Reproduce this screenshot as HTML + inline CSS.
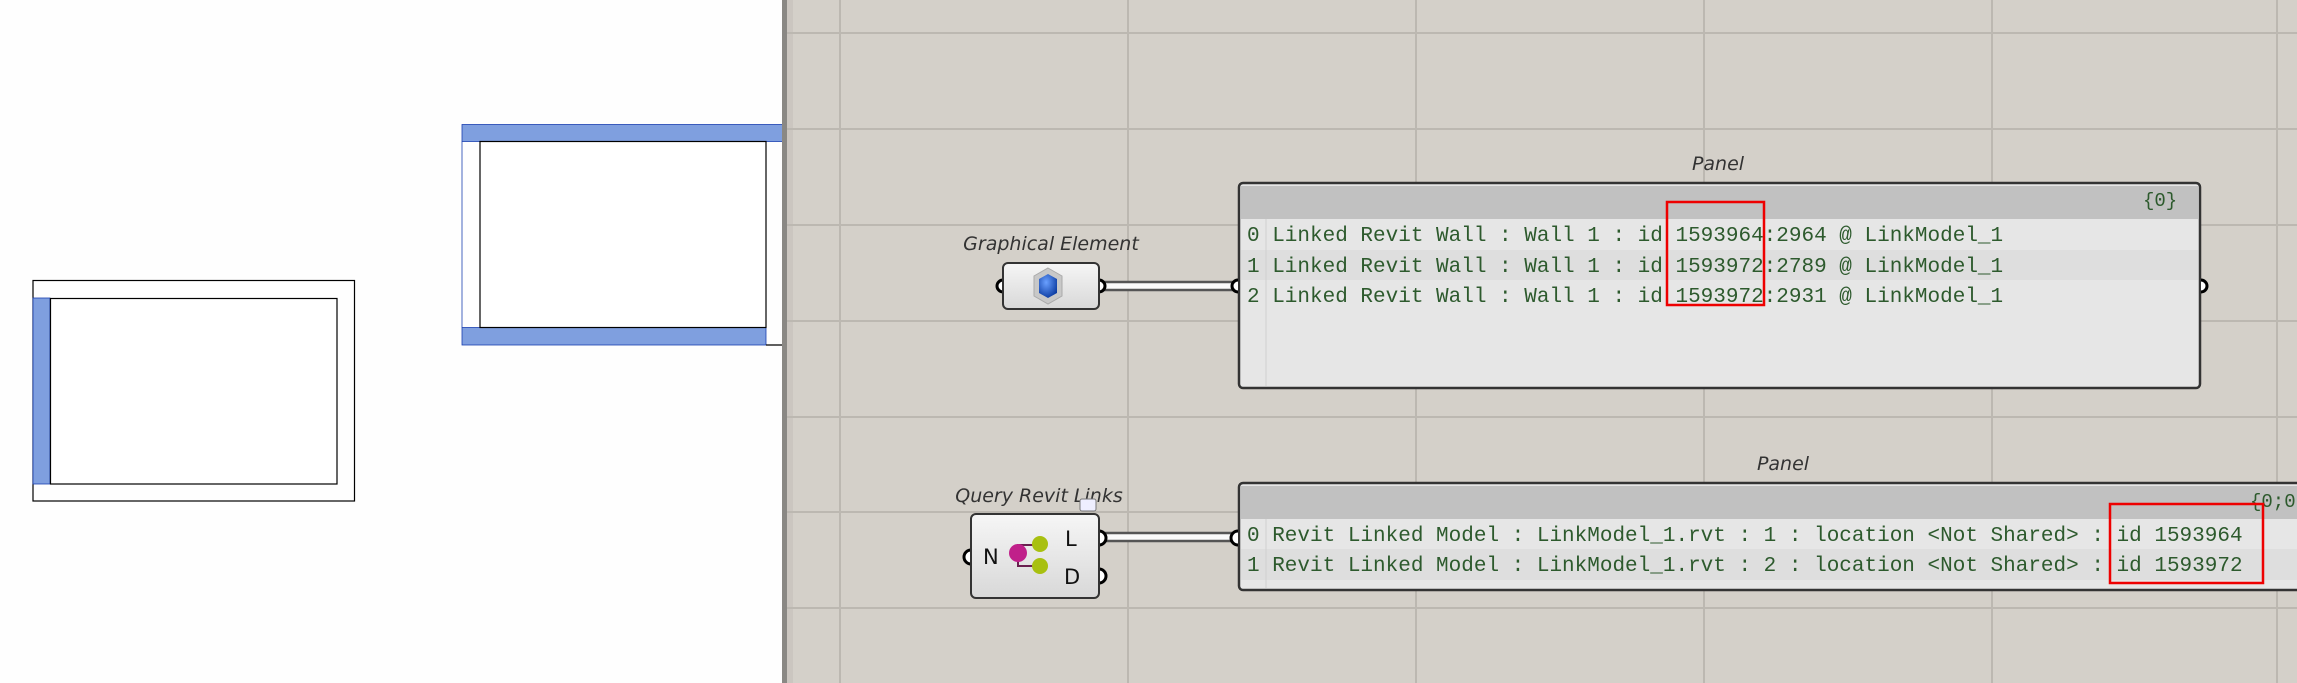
<!DOCTYPE html>
<html><head><meta charset="utf-8"><style>
html,body{margin:0;padding:0;width:2297px;height:683px;overflow:hidden;background:#fff}
svg{display:block}
.mono{font-family:"Liberation Mono",monospace;font-size:21px;fill:#2d5a2d}
.lbl{font-family:"DejaVu Sans","Liberation Sans",sans-serif;font-style:italic;font-size:19px;fill:#333}
.port{font-family:"DejaVu Sans","Liberation Sans",sans-serif;font-size:21px;fill:#111}
</style></head><body>
<svg width="2297" height="683" viewBox="0 0 2297 683" xmlns="http://www.w3.org/2000/svg">
<defs>
<linearGradient id="cg" x1="0" y1="0" x2="0" y2="1"><stop offset="0" stop-color="#f6f6f6"/><stop offset="1" stop-color="#d8d8d8"/></linearGradient>
<radialGradient id="blue" cx="0.4" cy="0.35" r="0.7"><stop offset="0" stop-color="#6aa0ff"/><stop offset="1" stop-color="#0a3aa0"/></radialGradient>
</defs>
<!-- left white area -->
<rect x="0" y="0" width="784" height="683" fill="#fefefe"/>
<rect x="33" y="280.5" width="321.5" height="220.5" fill="none" stroke="#000" stroke-width="1.2"/>
<rect x="33" y="298" width="17" height="186" fill="#7f9fdf" stroke="#1a3fb0" stroke-width="0.8"/>
<rect x="50.5" y="298.5" width="286.5" height="185.5" fill="#fff" stroke="#000" stroke-width="1.2"/>
<rect x="462" y="124.5" width="322" height="17" fill="#7f9fdf" stroke="#1a3fb0" stroke-width="0.8"/>
<rect x="462" y="327.5" width="304" height="17.5" fill="#7f9fdf" stroke="#1a3fb0" stroke-width="0.8"/>
<line x1="462" y1="141.5" x2="462" y2="327.5" stroke="#1a3fb0" stroke-width="0.8"/>
<rect x="480" y="141.5" width="286" height="186" fill="#fff" stroke="#000" stroke-width="1.2"/>
<line x1="766" y1="345" x2="784" y2="345" stroke="#000" stroke-width="1.2"/>
<!-- canvas -->
<rect x="784" y="0" width="1513" height="683" fill="#d4d0c9"/>
<rect x="782" y="0" width="5" height="683" fill="#8a8884"/>
<rect x="787" y="0" width="6" height="683" fill="#c4c0ba" opacity="0.6"/>
<g stroke="#bcb8b1" stroke-width="2">
<line x1="787" y1="33" x2="2297" y2="33"/><line x1="787" y1="129" x2="2297" y2="129"/>
<line x1="787" y1="225" x2="2297" y2="225"/><line x1="787" y1="321" x2="2297" y2="321"/>
<line x1="787" y1="417" x2="2297" y2="417"/><line x1="787" y1="512" x2="2297" y2="512"/>
<line x1="787" y1="608" x2="2297" y2="608"/>
<line x1="840" y1="0" x2="840" y2="683"/><line x1="1128" y1="0" x2="1128" y2="683"/>
<line x1="1416" y1="0" x2="1416" y2="683"/><line x1="1704" y1="0" x2="1704" y2="683"/>
<line x1="1992" y1="0" x2="1992" y2="683"/><line x1="2277" y1="0" x2="2277" y2="683"/>
</g>
<!-- wires -->
<rect x="1100" y="282" width="139" height="8" fill="#fafafa" stroke="#555" stroke-width="2.5"/>
<rect x="1100" y="533" width="139" height="8" fill="#fafafa" stroke="#555" stroke-width="2.5"/>
<!-- Graphical Element -->
<text class="lbl" x="1051" y="250" text-anchor="middle">Graphical Element</text>
<path d="M1003 280 a6 6 0 0 0 0 12" fill="#fff" stroke="#000" stroke-width="3"/>
<path d="M1099 280 a6 6 0 0 1 0 12" fill="#fff" stroke="#000" stroke-width="3"/>
<rect x="1003" y="263" width="96" height="46" rx="5" fill="url(#cg)" stroke="#333" stroke-width="2"/>
<polygon points="1048,268 1062,276 1062,296 1048,304 1034,296 1034,276" fill="#c8c8c8" stroke="#aaa"/>
<polygon points="1048,274 1057,279 1057,293 1048,298 1039,293 1039,279" fill="url(#blue)"/>
<!-- Panel 1 -->
<text class="lbl" x="1718" y="170" text-anchor="middle">Panel</text>
<rect x="1239" y="183" width="961" height="205" rx="4" fill="#e6e6e6" stroke="#333" stroke-width="2.5"/>
<rect x="1241" y="186" width="957" height="33" fill="#c1c1c1"/>
<rect x="1241" y="250" width="957" height="30" fill="#dedede"/>
<line x1="1266" y1="219" x2="1266" y2="386" stroke="#d0d0d0"/>
<text class="mono" x="2143" y="206" style="font-size:19px">{0}</text>
<text class="mono" x="1247" y="241">0 Linked Revit Wall : Wall 1 : id 1593964:2964 @ LinkModel_1</text>
<text class="mono" x="1247" y="272">1 Linked Revit Wall : Wall 1 : id 1593972:2789 @ LinkModel_1</text>
<text class="mono" x="1247" y="302">2 Linked Revit Wall : Wall 1 : id 1593972:2931 @ LinkModel_1</text>
<rect x="1667" y="202" width="97" height="103" fill="none" stroke="#e00" stroke-width="2.5"/>
<path d="M1238 280 a6 6 0 0 0 0 12" fill="#fff" stroke="#000" stroke-width="3"/>
<path d="M2201 280 a6 6 0 0 1 0 12" fill="#fff" stroke="#000" stroke-width="3"/>
<!-- Query Revit Links -->
<text class="lbl" x="1039" y="502" text-anchor="middle">Query Revit Links</text>
<path d="M971 550 a7 7 0 0 0 0 14" fill="#fff" stroke="#000" stroke-width="3"/>
<path d="M1099 531 a7 7 0 0 1 0 14" fill="#fff" stroke="#000" stroke-width="3"/>
<path d="M1099 569 a7 7 0 0 1 0 14" fill="#fff" stroke="#000" stroke-width="3"/>
<rect x="971" y="514" width="128" height="84" rx="5" fill="url(#cg)" stroke="#333" stroke-width="2"/>
<rect x="1080" y="499" width="16" height="12" rx="2" fill="#eef" stroke="#777"/>
<text class="port" x="983" y="564">N</text>
<text class="port" x="1065" y="546">L</text>
<text class="port" x="1064" y="584">D</text>
<path d="M1018 555 L1018 545 L1035 545 M1018 555 L1018 566 L1035 566" stroke="#6a2050" stroke-width="2" fill="none"/>
<circle cx="1018" cy="553" r="9" fill="#c0208a"/>
<circle cx="1040" cy="544" r="8" fill="#a8c010"/>
<circle cx="1040" cy="566" r="8" fill="#a8c010"/>
<!-- Panel 2 -->
<text class="lbl" x="1783" y="470" text-anchor="middle">Panel</text>
<rect x="1239" y="483" width="1070" height="107" rx="4" fill="#e6e6e6" stroke="#333" stroke-width="2.5"/>
<rect x="1241" y="486" width="1060" height="33" fill="#c1c1c1"/>
<rect x="1241" y="549" width="1060" height="31" fill="#dedede"/>
<line x1="1266" y1="519" x2="1266" y2="588" stroke="#d0d0d0"/>
<text class="mono" x="2250" y="507" style="font-size:19px">{0;0</text>
<text class="mono" x="1247" y="541">0 Revit Linked Model : LinkModel_1.rvt : 1 : location &lt;Not Shared&gt; : id 1593964</text>
<text class="mono" x="1247" y="571">1 Revit Linked Model : LinkModel_1.rvt : 2 : location &lt;Not Shared&gt; : id 1593972</text>
<rect x="2110" y="504" width="153" height="79" fill="none" stroke="#e00" stroke-width="2.5"/>
<path d="M1238 531 a7 7 0 0 0 0 14" fill="#fff" stroke="#000" stroke-width="3"/>
</svg>
</body></html>
